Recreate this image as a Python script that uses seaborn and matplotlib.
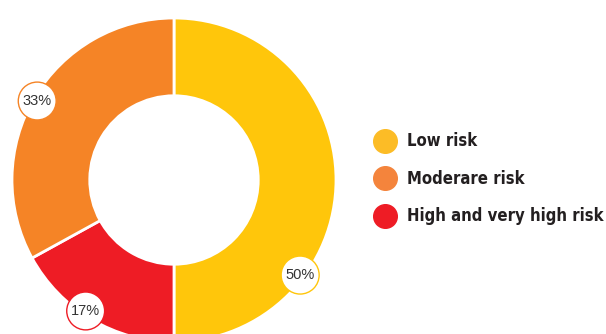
import matplotlib
matplotlib.use('Agg')
import numpy as np
import seaborn as sns
from matplotlib import pyplot as plt
from matplotlib.lines import Line2D

# risk shares
categories = ['Low risk', 'Moderare risk', 'High and very high risk']
shares = [50, 33, 17]
pct_labels = ['50%', '33%', '17%']
# wedge order drawn clockwise from 12 o'clock
wedge_order = [0, 2, 1]
label_angles = [-37, 150, 236]  # where the badges sit on the ring (deg)

sns.set_theme(style='white')
plt.rcParams['font.family'] = ['Liberation Sans', 'DejaVu Sans']
colors = sns.color_palette(['#FFC60B', '#F58426', '#EE1C25'])
legend_colors = sns.color_palette(['#FCBC26', '#F4843C', '#EE1C25'])

fig = plt.figure(figsize=(6.06, 3.34), dpi=100)
ax = fig.add_axes([12 / 606, -8 / 334, 324 / 606, 324 / 334])

vals = [shares[i] for i in wedge_order]
cols = [colors[i] for i in wedge_order]
ax.pie(vals, colors=cols, startangle=90, counterclock=False, radius=1,
       wedgeprops=dict(width=0.48, edgecolor='white', linewidth=2))

for i, ang in enumerate(label_angles):
    a = np.deg2rad(ang)
    x, y = 0.975 * np.cos(a), 0.975 * np.sin(a)
    ax.text(x, y, pct_labels[i], ha='center', va='center', fontsize=10.5,
            color='#333333', zorder=5,
            bbox=dict(boxstyle='circle,pad=0.3', fc='white', ec=colors[i], lw=1))

ax.set_xlim(-1, 1)
ax.set_ylim(-1, 1)
ax.set_aspect('equal')
ax.axis('off')

handles = [Line2D([], [], marker='o', linestyle='', markersize=17,
                  markerfacecolor=c, markeredgecolor=c) for c in legend_colors]
leg = fig.legend(handles, categories, loc='center left',
                 bbox_to_anchor=(366 / 606, 1 - 179 / 334), frameon=False,
                 prop={'family': 'DejaVu Sans', 'stretch': 'condensed',
                       'weight': 'bold', 'size': 12},
                 labelspacing=1.17, handletextpad=0.55, handlelength=1.5,
                 borderaxespad=0)
for t in leg.get_texts():
    t.set_color('#231F20')

plt.savefig('out.png', dpi=100)
